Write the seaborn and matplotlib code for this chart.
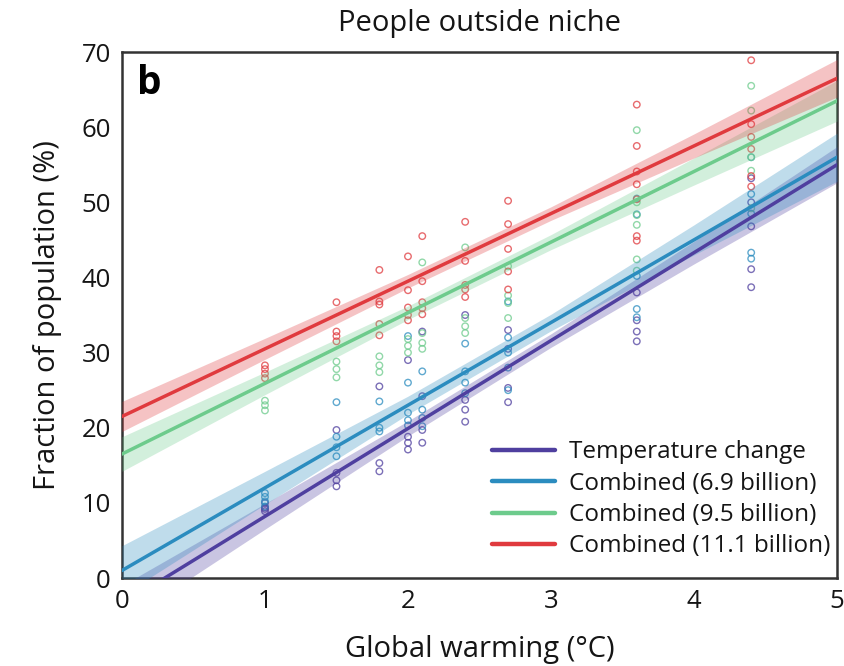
import numpy as np
import pandas as pd
import matplotlib
matplotlib.use("Agg")
import matplotlib.pyplot as plt
from matplotlib.lines import Line2D
import seaborn as sns

# ---- data -------------------------------------------------------------
warming_levels = [1.0, 1.5, 1.8, 2.0, 2.1, 2.4, 2.7, 3.6, 4.4]

series_names = [
    "Temperature change",
    "Combined (6.9 billion)",
    "Combined (9.5 billion)",
    "Combined (11.1 billion)",
]
series_colors = ["#4f3f9f", "#2b8cbf", "#6dcb8c", "#e03a3e"]

# model estimates (% of population outside niche), one list per warming level
temp_change = [
    [8.9, 9.4, 10.0, 9.2],
    [19.7, 14.0, 13.0, 12.2],
    [25.5, 15.3, 14.2],
    [29.0, 18.8, 18.0, 17.1],
    [32.8, 24.2, 19.7, 18.0],
    [35.0, 23.7, 22.4, 20.8],
    [33.0, 30.5, 25.3, 23.4],
    [38.0, 34.3, 32.8, 31.5],
    [53.2, 50.0, 46.8, 41.1, 38.7],
]
combined_69 = [
    [9.5, 10.2, 10.8, 11.3],
    [23.4, 18.8, 17.4, 16.2],
    [23.5, 20.0, 19.5],
    [32.2, 26.0, 22.0, 21.0, 20.3],
    [27.5, 22.4, 21.3, 20.2],
    [31.2, 27.5, 26.0, 24.6],
    [36.8, 32.0, 30.0, 28.0, 25.0],
    [50.5, 48.4, 40.2, 35.8, 34.7],
    [56.0, 51.1, 48.5, 43.3, 42.5],
]
combined_95 = [
    [22.3, 23.0, 23.6],
    [28.8, 27.8, 26.7],
    [29.5, 28.3, 27.4],
    [31.8, 30.9, 30.0],
    [42.0, 32.6, 31.3, 30.5],
    [44.0, 34.6, 33.5, 32.6],
    [41.5, 37.6, 36.6, 34.6],
    [59.6, 50.0, 48.3, 47.0, 42.4, 40.9],
    [65.5, 62.2, 56.0, 54.2, 49.2],
]
combined_111 = [
    [26.6, 27.2, 27.8, 28.3],
    [36.7, 32.8, 32.2, 31.5],
    [41.0, 36.8, 36.4, 33.8, 32.3],
    [42.8, 38.3, 36.0, 35.0, 34.3],
    [45.5, 39.5, 36.7, 35.9, 35.1],
    [47.4, 42.2, 39.0, 38.4, 37.4],
    [50.2, 47.1, 43.8, 40.8, 38.4],
    [63.0, 57.5, 54.1, 52.4, 50.4, 45.5, 44.9],
    [68.9, 60.4, 58.7, 57.1, 53.5, 52.1],
]
series_points = [temp_change, combined_69, combined_95, combined_111]

# linear trend with its confidence band, evaluated at the grid below
trend_x = [0, 1, 2, 3, 4, 5]
trend_mid = [
    [-3.5, 8.2, 19.9, 31.6, 43.3, 55.0],
    [1.0, 12.0, 23.0, 34.0, 45.0, 56.0],
    [16.5, 25.9, 35.3, 44.7, 54.1, 63.5],
    [21.5, 30.5, 39.5, 48.5, 57.5, 66.5],
]
trend_low = [
    [-6.0, 6.5, 18.9, 30.7, 41.8, 52.6],
    [-2.3, 9.8, 21.8, 32.9, 43.0, 52.8],
    [14.2, 24.4, 34.4, 43.7, 52.3, 60.8],
    [19.5, 29.1, 38.6, 47.6, 55.9, 64.0],
]
trend_high = [
    [-1.0, 9.9, 20.9, 32.5, 44.8, 57.4],
    [4.3, 14.2, 24.2, 35.1, 47.0, 59.2],
    [18.8, 27.4, 36.2, 45.7, 55.9, 66.2],
    [23.5, 31.9, 40.4, 49.4, 59.1, 69.0],
]

x_ticks = [0, 1, 2, 3, 4, 5]
y_ticks = [0, 10, 20, 30, 40, 50, 60, 70]

# ---- tidy tables ------------------------------------------------------
rows = []
for name, per_level in zip(series_names, series_points):
    for level, values in zip(warming_levels, per_level):
        for v in values:
            rows.append({"series": name, "warming": level, "fraction": v})
points = pd.DataFrame(rows)

trend_rows = []
for name, mid, lo, hi in zip(series_names, trend_mid, trend_low, trend_high):
    for x, m, l, h in zip(trend_x, mid, lo, hi):
        trend_rows.append({"series": name, "warming": x, "mid": m, "low": l, "high": h})
trend = pd.DataFrame(trend_rows)

# ---- figure -----------------------------------------------------------
sns.set_theme(style="white")
plt.rcParams["font.family"] = ["Open Sans", "DejaVu Sans"]
text_color = "#151515"
frame_color = "#333333"

fig = plt.figure(figsize=(8.44, 6.66), dpi=100)
ax = fig.add_axes([0.1445, 0.1321, 0.8472, 0.7898])

palette = dict(zip(series_names, series_colors))

for name in series_names:
    sub = points[points["series"] == name]
    ax.scatter(sub["warming"], sub["fraction"], s=22, facecolors="none",
               edgecolors=palette[name], linewidths=1.0, alpha=0.75, zorder=2)

for name in series_names:
    t = trend[trend["series"] == name]
    ax.fill_between(t["warming"], t["low"], t["high"], color=palette[name],
                    alpha=0.3, linewidth=0, zorder=3)

sns.lineplot(data=trend, x="warming", y="mid", hue="series", palette=palette,
             hue_order=series_names, linewidth=2.5, legend=False, ax=ax,
             zorder=4)

ax.set_xlim(0, 5)
ax.set_ylim(0, 70)
ax.set_xticks(x_ticks)
ax.set_yticks(y_ticks)
ax.tick_params(axis="both", direction="in", length=5, width=1.3,
               color=frame_color, labelsize=18.5, labelcolor=text_color, pad=8)
for side in ["left", "right", "top", "bottom"]:
    ax.spines[side].set_visible(True)
    ax.spines[side].set_color(frame_color)
    ax.spines[side].set_linewidth(1.8)

ax.set_xlabel("Global warming (°C)", fontsize=21, color=text_color, labelpad=15)
ax.set_ylabel("Fraction of population (%)", fontsize=21, color=text_color,
              labelpad=14)
ax.set_title("People outside niche", fontsize=21, color=text_color, pad=15)

ax.text(0.021, 0.978, "b", transform=ax.transAxes, fontsize=28,
        fontweight="bold", color="black", va="top", ha="left")

handles = [Line2D([0], [0], color=c, linewidth=3.2) for c in series_colors]
ax.legend(handles, series_names, loc="lower right", frameon=False,
          fontsize=17.5, handlelength=2.6, handletextpad=0.55,
          labelspacing=0.3, borderaxespad=0.0, bbox_to_anchor=(1.004, 0.019))
for txt in ax.get_legend().get_texts():
    txt.set_color(text_color)

fig.savefig("out.png", dpi=100)
